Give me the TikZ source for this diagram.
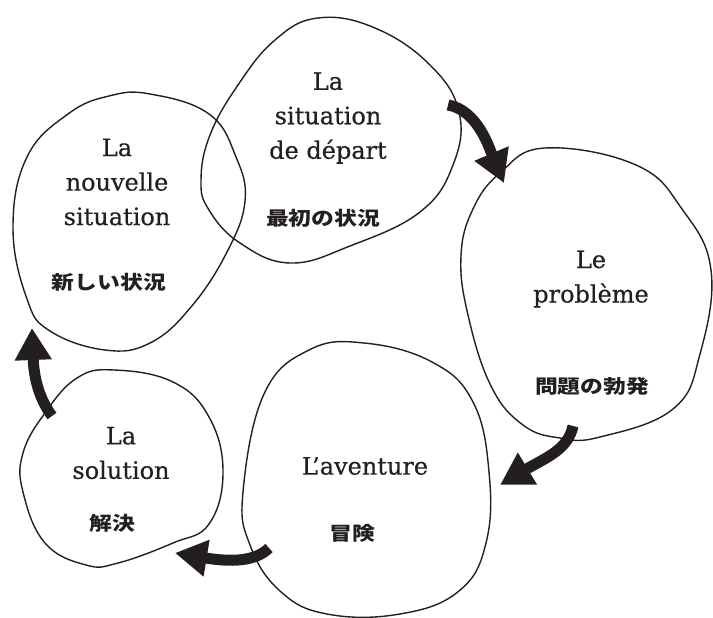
\documentclass[tikz,border=0pt]{standalone}
\usepackage{fontspec}
\setmainfont{DejaVu Serif}[FakeBold=0.5]
\newfontfamily\jpfont{Noto Sans CJK JP}[FakeStretch=1.2]
\usetikzlibrary{arrows.meta}
\definecolor{ink}{HTML}{231F20}
\tikzset{
  blob/.style={draw=ink,line width=1.4pt},
  fr/.style={align=center,text=ink,font=\fontsize{24}{34.5}\selectfont,inner sep=0pt},
  jp/.style={text=ink,font=\jpfont\bfseries\fontsize{19}{24}\selectfont,inner sep=0pt},
  flow/.style={draw=ink,line width=11pt,-{Triangle[width=35pt,length=32pt]}}
}
\begin{document}
\begin{tikzpicture}[x=1pt,y=-1pt]
\useasboundingbox (0,0) rectangle (713,618);
% blobs
\draw[blob] plot[smooth cycle,tension=0.7] coordinates {(318,18)(375,28)(430,65)(459,112)(453,165)(420,212)(350,246)(290,263)(240,243)(209,210)(201,180)(210,135)(238,85)(275,40)};
\draw[blob] plot[smooth cycle,tension=0.7] coordinates {(150,94)(209,114)(236,157)(245,201)(227,252)(191,307)(150,343)(105,350)(50,331)(27,299)(13,228)(27,157)(68,114)(109,96)};
\draw[blob] plot[smooth cycle,tension=0.7] coordinates {(545,148)(636,165)(682,209)(711,270)(700,354)(673,409)(600,437)(560,438)(523,425)(491,386)(468,315)(461,256)(473,209)(500,173)};
\draw[blob] plot[smooth cycle,tension=0.7] coordinates {(364,343)(432,362)(473,402)(489,472)(486,543)(459,591)(400,614)(327,614)(280,591)(250,545)(243,492)(264,394)(309,350)};
\draw[blob] plot[smooth cycle,tension=0.7] coordinates {(114,370)(173,382)(209,417)(223,472)(209,524)(173,543)(118,563)(86,565)(45,543)(23,492)(23,453)(45,413)(77,378)};
% texts
\node[fr] (tA) at (328,118) {La\\situation\\de départ};
\node[jp] (jA) at (323,218) {最初の状況};
\node[fr] (tB) at (117,182) {La\\nouvelle\\situation};
\node[jp] (jB) at (109,282) {新しい状況};
\node[fr] (tC) at (591,279) {Le\\problème};
\node[jp] (jC) at (592,386) {問題の勃発};
\node[fr] (tD) at (365,466) {L’aventure};
\node[jp] (jD) at (352,533) {冒険};
\node[fr] (tE) at (121,453) {La\\solution};
\node[jp] (jE) at (112,523) {解決};
% arrows
\coordinate (a1s) at (448,105); \coordinate (a1e) at (504,183);
\coordinate (a2s) at (573,426); \coordinate (a2e) at (500,485);
\coordinate (a3s) at (269,548); \coordinate (a3e) at (175,553);
\coordinate (a4s) at (52,416);  \coordinate (a4e) at (32,328);
\draw[flow] (a1s) .. controls (478,110) and (490,150) .. (a1e);
\draw[flow] (a2s) .. controls (568,450) and (545,458) .. (a2e);
\draw[flow] (a3s) .. controls (255,562) and (230,562) .. (a3e);
\draw[flow] (a4s) .. controls (40,400) and (34,380) .. (a4e);
\end{tikzpicture}
\end{document}
